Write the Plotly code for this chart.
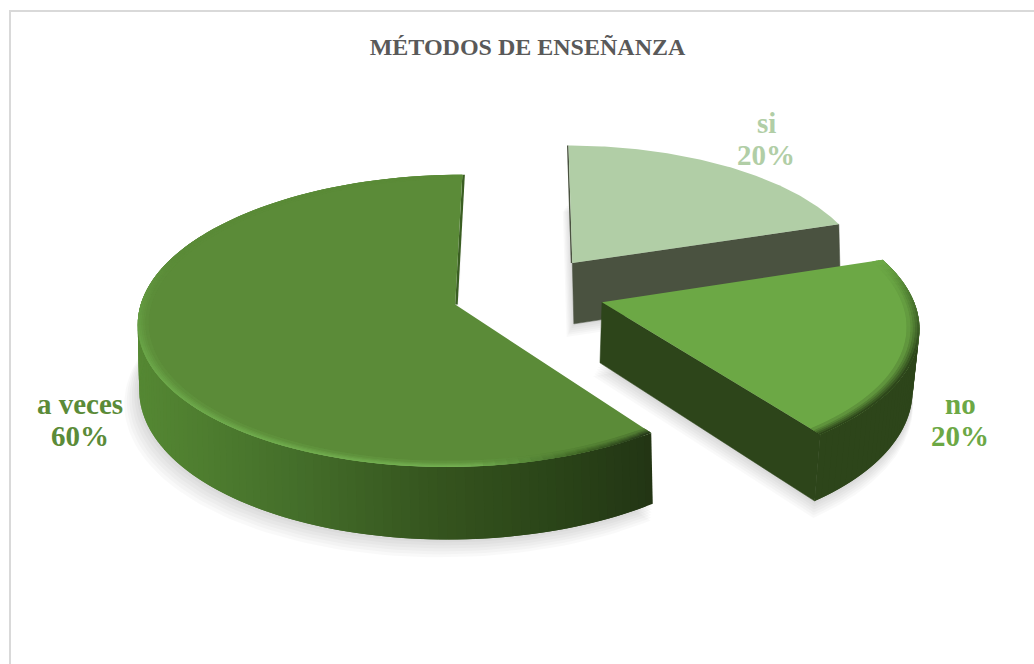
import numpy as np
import plotly.graph_objects as go

TITLE = "MÉTODOS DE ENSEÑANZA"
categories = ["si", "no", "a veces"]
values = [20, 20, 60]
top_colors = ["#B1CEA6", "#6CA845", "#5B8B38"]
label_colors = ["#B1CEA6", "#6CA845", "#5B8B38"]

W, H = 1034, 664
CX, CY, RX, RY = 531.0, 292.0, 312.0, 142.0

# perspective look of each slice: radius, explosion, perspective, wall depth, wall shift,
# base radius factor, nudges
LOOK = {
    0: dict(r=0.95, e=0.23, k=0.11, depth=62.0, dx=1.5, br=1.0, ox=0.0, dy=-3.0),
    1: dict(r=0.99, e=0.23, k=0.15, depth=60.0, dx=-2.0, br=0.985, ox=2.0, dy=0.0),
    2: dict(r=1.00, e=0.24, k=0.11, depth=64.0, dx=1.5, br=1.0, ox=-4.0, dy=2.0),
}

total = sum(values)
spans = np.cumsum([0] + values) / total * 360.0


def hex_rgb(h):
    return np.array([int(h[i:i + 2], 16) for i in (1, 3, 5)], float)


def rgb(c):
    return "rgb(%d,%d,%d)" % tuple(np.round(c))


def ramp(x, stops):
    xs = [s[0] for s in stops]
    cs = np.array([hex_rgb(s[1]) for s in stops])
    return np.array([np.interp(x, xs, cs[:, i]) for i in range(3)])


def project(theta, r, phi, look, z=0.0):
    t, p = np.radians(theta), np.radians(phi)
    rr = r * look["r"] * (1.0 - (1.0 - look["br"]) * z)
    X = rr * np.sin(t) + look["e"] * np.sin(p)
    Y = -rr * np.cos(t) - look["e"] * np.cos(p)
    w = 1.0 / (1.0 - look["k"] * Y)
    return (CX + look["ox"] + RX * X * w + look["dx"] * z,
            CY + look["dy"] + RY * Y * w + look["depth"] * z * w)


fig = go.Figure()


def poly(xs, ys, color, line=0.0):
    fig.add_trace(go.Scatter(
        x=list(xs) + [xs[0]], y=list(ys) + [ys[0]], mode="lines", fill="toself",
        fillcolor=color, line=dict(color=color, width=line), hoverinfo="skip",
        showlegend=False))


def outline(a0, a1, phi, look, r=1.0, z=0.0, n=120):
    th = np.linspace(a0, a1, n)
    x, y = project(th, r, phi, look, z)
    ax, ay = project(0.0, 0.0, phi, look, z)
    return np.r_[ax, x], np.r_[ay, y]


def shadow(a0, a1, phi, look):
    for i in range(6, 0, -1):
        x, y = outline(a0, a1, phi, look, r=1.0 + 0.004 * i, z=1.0)
        poly(x - 1.2 * i, y + 2.2 * i, "rgba(0,0,0,0.022)")


def flat_wall(a, phi, look, color):
    x0, y0 = project(0.0, 0.0, phi, look)
    x1, y1 = project(a, 1.0, phi, look)
    x2, y2 = project(a, 1.0, phi, look, 1.0)
    x3, y3 = project(0.0, 0.0, phi, look, 1.0)
    poly([x0, x1, x2, x3], [y0, y1, y2, y3], color, line=0.5)


def sliver(a, phi, look, color, offset):
    x0, y0 = project(0.0, 0.0, phi, look)
    x1, y1 = project(a, 1.0, phi, look)
    poly([x0, x1, x1 + offset, x0 + offset], [y0, y1, y1, y0], color)


def arc_wall(a0, a1, phi, look, stops):
    step = 1.5
    th = np.arange(a0, a1 + 0.01, step)
    for t0 in th[:-1]:
        t1 = min(t0 + 2 * step, a1)
        x0, y0 = project(t0, 1.0, phi, look)
        x1, y1 = project(t1, 1.0, phi, look)
        x2, y2 = project(t1, 1.0, phi, look, 1.0)
        x3, y3 = project(t0, 1.0, phi, look, 1.0)
        poly([x0, x1, x2, x3], [y0, y1, y2, y3], rgb(ramp(x0, stops)))


def bevel(a0, a1, phi, look, top, stops, width=0.03):
    top_c = hex_rgb(top)
    step = 2.0
    th = np.arange(a0, a1 + 0.01, step)
    rings = 5
    for k in range(rings):
        r1 = 1.0 - width * k / rings
        r0 = r1 - width * 1.6 / rings
        mix = 1.0 - k / rings
        for t0 in th[:-1]:
            t1 = min(t0 + 2 * step, a1)
            x0, y0 = project(t0, r0, phi, look)
            x1, y1 = project(t1, r0, phi, look)
            x2, y2 = project(t1, r1, phi, look)
            x3, y3 = project(t0, r1, phi, look)
            c = ramp(t0, stops) * mix + top_c * (1 - mix)
            poly([x0, x1, x2, x3], [y0, y1, y2, y3], rgb(c))


def slice_geom(i):
    a0, a1 = spans[i], spans[i + 1]
    return a0, a1, (a0 + a1) / 2.0, LOOK[i]


# si (back slice)
a0, a1, phi, look = slice_geom(0)
shadow(a0, a1, phi, look)
sliver(a0, phi, look, "#4A5240", -1.5)
flat_wall(a1, phi, look, "#4A5240")
poly(*outline(a0, a1, phi, look), top_colors[0])

# a veces: the back of its rim is hidden behind the top face, so the wall stops at 300 degrees
a0, a1, phi, look = slice_geom(2)
shadow(a0, a1, phi, look)
sliver(a1, phi, look, "#3A5E22", 2.5)
arc_wall(a0, 300.0, phi, look, [(136, "#558833"), (300, "#446E2A"), (440, "#35541E"),
                                (560, "#2A4418"), (660, "#223414")])
poly(*outline(a0, a1, phi, look), top_colors[2])
bevel(a0, a1, phi, look, top_colors[2],
      [(144, "#26391A"), (156, "#3E6424"), (175, "#74B152"), (250, "#6AA548"),
       (290, "#5B8B38"), (360, "#5B8B38")])

# no
a0, a1, phi, look = slice_geom(1)
shadow(a0, a1, phi, look)
flat_wall(a1, phi, look, "#2D451A")
arc_wall(a0, a1, phi, look, [(0, "#2D451A"), (1034, "#2D451A")])
poly(*outline(a0, a1, phi, look), top_colors[1])
bevel(a0, a1, phi, look, top_colors[1],
      [(72, "#6CA845"), (85, "#4E7C32"), (110, "#2F481C"), (144, "#2D451A")], width=0.035)

ann = []
label_xy = [(766, 123), (960, 404), (80, 404)]
for name, v, col, (lx, ly) in zip(categories, values, label_colors, label_xy):
    for text, yy in ((name, ly), (f"{round(v / total * 100)}%", ly + 32)):
        ann.append(dict(x=lx, y=yy, xref="x", yref="y", text=f"<b>{text}</b>", showarrow=False,
                        font=dict(family="Liberation Serif", size=29, color=col)))

fig.update_layout(
    width=W, height=H, autosize=False, margin=dict(l=0, r=0, t=0, b=0),
    paper_bgcolor="white", plot_bgcolor="white", showlegend=False,
    title=dict(text=f"<b>{TITLE}</b>", x=527.5 / W, y=1 - 47 / H, xanchor="center", yanchor="middle",
               font=dict(family="Liberation Serif", size=24, color="#595959")),
    xaxis=dict(range=[0, W], visible=False, fixedrange=True),
    yaxis=dict(range=[H, 0], visible=False, fixedrange=True),
    annotations=ann,
    shapes=[dict(type="rect", xref="x", yref="y", x0=10, y0=11, x1=W + 20, y1=H + 20,
                 line=dict(color="#D9D9D9", width=2), layer="below")],
)

fig.write_html("out.html", config=dict(displayModeBar=False),
               post_script="document.body.style.margin='0';")
